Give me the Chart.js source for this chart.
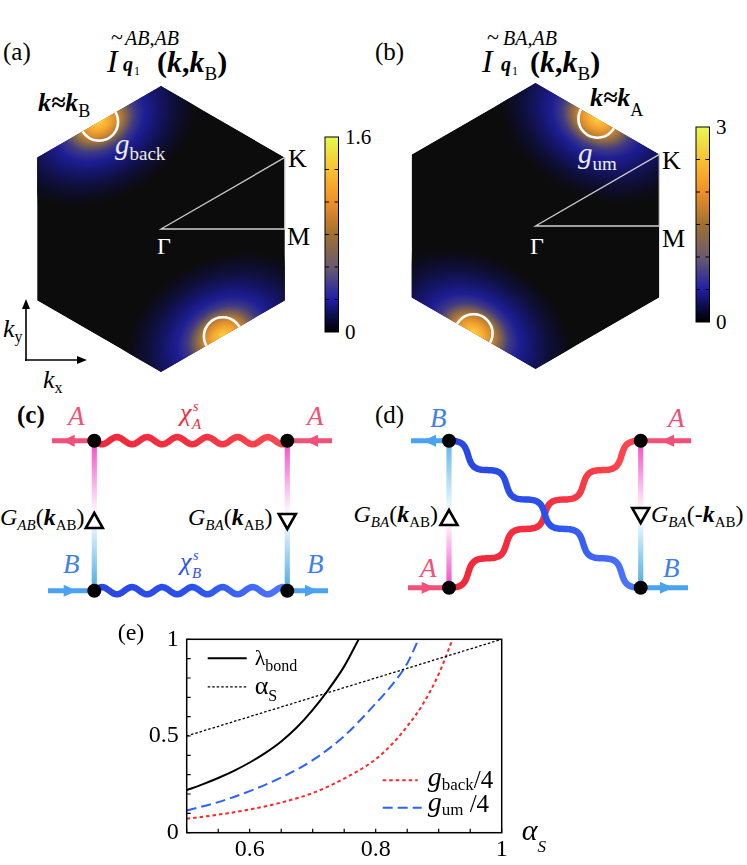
<!DOCTYPE html>
<html>
<head>
<meta charset="utf-8">
<script src="https://cdn.jsdelivr.net/npm/chart.js@4.4.0/dist/chart.umd.min.js"></script>
<style>
  html, body { margin: 0; padding: 0; background: #fff; }
  #page { position: relative; width: 747px; height: 865px; overflow: hidden; }
  #art { position: absolute; left: 0; top: 0; }
  #art text { font-family: "Liberation Serif", "Times New Roman", serif; }
  #chartE { position: absolute; left: 0; top: 600px; }
</style>
</head>
<body>
<div id="page">
  <svg id="art" width="747" height="865"></svg>
  <canvas id="chartE" width="747" height="265"></canvas>
</div>
<script>
// values
const alphaX = [0.5, 1.0];
const alphaY = [0.5, 1.0];
const lambdaX = [0.5, 0.525, 0.55, 0.575, 0.6, 0.625, 0.65, 0.675, 0.7, 0.725, 0.75, 0.773];
const lambdaY = [0.22, 0.25, 0.283, 0.32, 0.363, 0.413, 0.472, 0.545, 0.635, 0.74, 0.86, 1.0];
const umX = [0.5, 0.55, 0.6, 0.65, 0.7, 0.75, 0.8, 0.825, 0.85, 0.868];
const umY = [0.115, 0.158, 0.215, 0.285, 0.375, 0.5, 0.668, 0.76, 0.875, 1.0];
const backX = [0.5, 0.55, 0.6, 0.65, 0.7, 0.75, 0.8, 0.825, 0.85, 0.875, 0.9, 0.922];
const backY = [0.072, 0.093, 0.12, 0.156, 0.205, 0.28, 0.38, 0.455, 0.55, 0.665, 0.82, 1.0];
const xTickLabels = [0.6, 0.8, 1];
const yTickLabels = [0, 0.5, 1];
const colorbarA = ["1.6", "0"];
const colorbarB = ["3", "0"];

const SERIF = "'Liberation Serif', 'Times New Roman', serif";
const PINK = "#f0507a", LBLUE = "#4aa3ee", RED = "#f02a3a", DBLUE = "#2a50e8", TBLUE = "#3f7fe8";

// ---------- panels (a)-(d): illustration in svg ----------
function hex(cx, cy, r) {
  const w = r * Math.cos(Math.PI / 6);
  return {
    top: [cx, cy - r], ur: [cx + w, cy - r / 2], lr: [cx + w, cy + r / 2],
    bot: [cx, cy + r], ll: [cx - w, cy + r / 2], ul: [cx - w, cy - r / 2], c: [cx, cy]
  };
}
const mid = (p, q) => [(p[0] + q[0]) / 2, (p[1] + q[1]) / 2];
const ptsStr = h => [h.top, h.ur, h.lr, h.bot, h.ll, h.ul].map(p => p.join(",")).join(" ");

function wavePath(x1, y1, x2, y2, periods, amp) {
  const n = 200, dx = x2 - x1, dy = y2 - y1, len = Math.hypot(dx, dy);
  const nx = -dy / len, ny = dx / len;
  let d = "";
  for (let i = 0; i <= n; i++) {
    const t = i / n, o = amp * Math.sin(2 * Math.PI * periods * t);
    d += (i ? "L" : "M") + (x1 + dx * t + nx * o).toFixed(2) + "," + (y1 + dy * t + ny * o).toFixed(2);
  }
  return d;
}

function arrow(x, y, dir, color) {
  // dir = -1 points left, 1 points right; x = tip
  const b = x - dir * 13;
  return `<polygon points="${x},${y} ${b},${y - 6} ${b},${y + 6}" fill="${color}"/>`;
}

function tri(x, y, up) {
  const p = up ? `${x},${y - 8} ${x - 8.5},${y + 7} ${x + 8.5},${y + 7}`
               : `${x},${y + 8} ${x - 8.5},${y - 7} ${x + 8.5},${y - 7}`;
  return `<polygon points="${p}" fill="#fff" stroke="#000" stroke-width="2.6"/>`;
}

// spot: [x, y, angle of the hexagon edge it sits on]
function hexPanel(id, h, spots, cb, cbLabels) {
  let s = `<clipPath id="clip${id}"><polygon points="${ptsStr(h)}"/></clipPath>`;
  s += `<g clip-path="url(#clip${id})"><polygon points="${ptsStr(h)}" fill="#0c0c0c"/>`;
  spots.forEach(p => {
    s += `<ellipse cx="${p[0]}" cy="${p[1]}" rx="110" ry="82" transform="rotate(${p[2]} ${p[0]} ${p[1]})" fill="url(#glow)"/>`;
  });
  spots.forEach(p => { s += `<circle cx="${p[0]}" cy="${p[1]}" r="19" fill="none" stroke="#fff" stroke-width="2.6"/>`; });
  s += `</g>`;
  const M = [h.ur[0], h.c[1]];
  s += `<path d="M${h.c[0]},${h.c[1]}L${h.ur[0]},${h.ur[1]}L${M[0]},${M[1]}Z" fill="none" stroke="#cfcfcf" stroke-width="1.3"/>`;
  // colorbar
  s += `<rect x="${cb.x}" y="${cb.y}" width="13.5" height="${cb.h}" fill="url(#cmap)" stroke="#000" stroke-width="1"/>`;
  for (let i = 1; i < 6; i++) {
    const yy = cb.y + cb.h * i / 6;
    s += `<path d="M${cb.x},${yy}h4M${cb.x + 9.5},${yy}h4" stroke="#000" stroke-width="1"/>`;
  }
  s += `<text x="${cb.x + 20}" y="${cb.y + 7}" font-size="21">${cbLabels[0]}</text>`;
  s += `<text x="${cb.x + 20}" y="${cb.y + cb.h + 7}" font-size="21">${cbLabels[1]}</text>`;
  return s;
}

const hA = hex(161, 229, 143);
const hB = hex(535.5, 226, 143);

let svg = `<defs>
<radialGradient id="glow">
  <stop offset="0" stop-color="#ffd040"/><stop offset="0.1" stop-color="#f5a830"/>
  <stop offset="0.18" stop-color="#d08630"/><stop offset="0.26" stop-color="#80644c"/>
  <stop offset="0.34" stop-color="#403a84"/><stop offset="0.44" stop-color="#1e1e94"/>
  <stop offset="0.57" stop-color="#15156a"/><stop offset="0.72" stop-color="#0f0f3a"/>
  <stop offset="0.87" stop-color="#0c0c1a"/><stop offset="1" stop-color="#0c0c0c" stop-opacity="0"/>
</radialGradient>
<linearGradient id="cmap" x1="0" y1="1" x2="0" y2="0">
  <stop offset="0" stop-color="#000"/><stop offset="0.08" stop-color="#0c0c48"/>
  <stop offset="0.17" stop-color="#2020a8"/><stop offset="0.33" stop-color="#685a70"/>
  <stop offset="0.5" stop-color="#a07030"/><stop offset="0.67" stop-color="#f09028"/>
  <stop offset="0.83" stop-color="#f8c030"/><stop offset="1" stop-color="#e8f850"/>
</linearGradient>
<linearGradient id="vPinkBlue" x1="0" y1="0" x2="0" y2="1">
  <stop offset="0" stop-color="#f04ac8"/><stop offset="0.45" stop-color="#fff0fa"/>
  <stop offset="0.58" stop-color="#e2f4fd"/><stop offset="1" stop-color="#4aa8e0"/>
</linearGradient>
<linearGradient id="vBluePink" x1="0" y1="0" x2="0" y2="1">
  <stop offset="0" stop-color="#5ab4e6"/><stop offset="0.45" stop-color="#eef8fd"/>
  <stop offset="0.58" stop-color="#fdeef8"/><stop offset="1" stop-color="#f04ac8"/>
</linearGradient>
<linearGradient id="wRed" x1="0" y1="0" x2="1" y2="0">
  <stop offset="0" stop-color="#f0283c"/><stop offset="0.5" stop-color="#f23040"/><stop offset="1" stop-color="#ff4a50"/>
</linearGradient>
<linearGradient id="wBlue" x1="0" y1="0" x2="1" y2="0">
  <stop offset="0" stop-color="#2a46e0"/><stop offset="0.5" stop-color="#2a50ec"/><stop offset="1" stop-color="#5078ff"/>
</linearGradient>
</defs>`;

// (a)
svg += hexPanel("A", hA, [[...mid(hA.ul, hA.top), -30], [...mid(hA.lr, hA.bot), -30]], { x: 325, y: 137, h: 195 }, colorbarA);
svg += `<text x="3" y="60" font-size="25">(a)</text>
<text x="111" y="44" font-size="22">~</text>
<text x="107" y="72" font-size="32" font-style="italic">I</text>
<text x="125" y="45" font-size="20" font-style="italic">AB,AB</text>
<text x="123" y="71" font-size="20" font-style="italic" font-weight="bold">q</text>
<text x="134" y="75" font-size="12">1</text>
<text x="157" y="72" font-size="30" font-weight="bold">(<tspan font-style="italic">k</tspan>,<tspan font-style="italic">k</tspan><tspan font-size="19" font-weight="normal" dy="8">B</tspan><tspan dy="-8">)</tspan></text>
<text x="38" y="111" font-size="26" font-weight="bold" font-style="italic">k≈k<tspan font-size="18" font-weight="normal" font-style="normal" dy="6">B</tspan></text>
<text x="115" y="154" font-size="29" font-style="italic" fill="#ececec">g<tspan font-size="19" font-style="normal" dy="6">back</tspan></text>
<text x="288" y="167" font-size="26">K</text>
<text x="287" y="245" font-size="26">M</text>
<text x="157" y="254" font-size="24" fill="#fff">Γ</text>
<path d="M26,361V306M25,360H80" stroke="#000" stroke-width="1.6" fill="none"/>
<polygon points="26,299 22,309 30,309" fill="#000"/>
<polygon points="87,360 77,356 77,364" fill="#000"/>
<text x="3" y="337" font-size="26" font-style="italic">k<tspan font-size="16" font-style="normal" dy="5">y</tspan></text>
<text x="43" y="388" font-size="26" font-style="italic">k<tspan font-size="16" font-style="normal" dy="5">x</tspan></text>`;

// (b)
svg += hexPanel("B", hB, [[...mid(hB.top, hB.ur), 30], [...mid(hB.ll, hB.bot), 30]], { x: 696, y: 127, h: 195 }, colorbarB);
svg += `<text x="375" y="60" font-size="25">(b)</text>
<text x="487" y="44" font-size="22">~</text>
<text x="482" y="72" font-size="32" font-style="italic">I</text>
<text x="503" y="45" font-size="20" font-style="italic">BA,AB</text>
<text x="501" y="71" font-size="20" font-style="italic" font-weight="bold">q</text>
<text x="512" y="75" font-size="12">1</text>
<text x="530" y="72" font-size="30" font-weight="bold">(<tspan font-style="italic">k</tspan>,<tspan font-style="italic">k</tspan><tspan font-size="19" font-weight="normal" dy="8">B</tspan><tspan dy="-8">)</tspan></text>
<text x="590" y="106" font-size="26" font-weight="bold" font-style="italic">k≈k<tspan font-size="18" font-weight="normal" font-style="normal" dy="10">A</tspan></text>
<text x="578" y="163" font-size="29" font-style="italic" fill="#ececec">g<tspan font-size="19" font-style="normal" dy="7">um</tspan></text>
<text x="662" y="169" font-size="26">K</text>
<text x="662" y="247" font-size="26">M</text>
<text x="530" y="254" font-size="24" fill="#fff">Γ</text>`;

// (c)
{
  const xl = 94.3, xr = 287.3, yt = 440.7, yb = 590.7;
  svg += `<rect x="${xl - 2.6}" y="${yt}" width="5.2" height="${yb - yt}" fill="url(#vPinkBlue)"/>
<rect x="${xr - 2.6}" y="${yt}" width="5.2" height="${yb - yt}" fill="url(#vPinkBlue)"/>
<path d="M52,${yt}H${xl}M${xr},${yt}H332" stroke="${PINK}" stroke-width="5"/>
<path d="M48,${yb}H${xl}M${xr},${yb}H328" stroke="${LBLUE}" stroke-width="5"/>
${arrow(61.7, yt, -1, PINK)}${arrow(305, yt, -1, PINK)}
${arrow(76.7, yb, 1, LBLUE)}${arrow(318, yb, 1, LBLUE)}
<path d="${wavePath(xl, yt, xr, yt, 6.4, 3.6)}" stroke="url(#wRed)" stroke-width="6.5" fill="none" stroke-linecap="round"/>
<path d="${wavePath(xl, yb, xr, yb, 6.4, -3.6)}" stroke="url(#wBlue)" stroke-width="6.5" fill="none" stroke-linecap="round"/>
${tri(xl, 521, true)}${tri(xr, 521, false)}
<circle cx="${xl}" cy="${yt}" r="7" fill="#000"/><circle cx="${xr}" cy="${yt}" r="7" fill="#000"/>
<circle cx="${xl}" cy="${yb}" r="7" fill="#000"/><circle cx="${xr}" cy="${yb}" r="7" fill="#000"/>`;
  svg += `<text x="17" y="423" font-size="25" font-weight="bold">(c)</text>
<text x="68" y="425" font-size="27" font-style="italic" fill="${PINK}">A</text>
<text x="307" y="425" font-size="27" font-style="italic" fill="${PINK}">A</text>
<text x="180" y="421" font-size="26" font-style="italic" fill="${RED}">χ</text>
<text x="193" y="411" font-size="14" font-style="italic" fill="${RED}">s</text>
<text x="192" y="429" font-size="15" font-style="italic" fill="${RED}">A</text>
<text x="63" y="573" font-size="27" font-style="italic" fill="${TBLUE}">B</text>
<text x="307" y="573" font-size="27" font-style="italic" fill="${TBLUE}">B</text>
<text x="180" y="570" font-size="26" font-style="italic" fill="${DBLUE}">χ</text>
<text x="193" y="560" font-size="14" font-style="italic" fill="${DBLUE}">s</text>
<text x="192" y="578" font-size="15" font-style="italic" fill="${DBLUE}">B</text>
<text x="0" y="525" font-size="24"><tspan font-style="italic">G</tspan><tspan font-size="15" font-style="italic" dy="5">AB</tspan><tspan dy="-5">(</tspan><tspan font-weight="bold" font-style="italic">k</tspan><tspan font-size="15" dy="5">AB</tspan><tspan dy="-5">)</tspan></text>
<text x="188" y="525" font-size="24"><tspan font-style="italic">G</tspan><tspan font-size="15" font-style="italic" dy="5">BA</tspan><tspan dy="-5">(</tspan><tspan font-weight="bold" font-style="italic">k</tspan><tspan font-size="15" dy="5">AB</tspan><tspan dy="-5">)</tspan></text>`;
}

// (d)
{
  const xl = 449, xr = 640.7, yt = 440.7, yb = 587.7;
  svg += `<rect x="${xl - 2.6}" y="${yt}" width="5.2" height="${yb - yt}" fill="url(#vBluePink)"/>
<rect x="${xr - 2.6}" y="${yt}" width="5.2" height="${yb - yt}" fill="url(#vPinkBlue)"/>
<path d="M411,${yt}H${xl}M${xr},${yb}H688" stroke="${LBLUE}" stroke-width="5"/>
<path d="M408,${yb}H${xl}M${xr},${yt}H691" stroke="${PINK}" stroke-width="5"/>
${arrow(423, yt, -1, LBLUE)}${arrow(661, yt, -1, PINK)}
${arrow(434.7, yb, 1, PINK)}${arrow(673, yb, 1, LBLUE)}
<path d="${wavePath(xl, yb, xr, yt, 5, 5.5)}" stroke="url(#wRed)" stroke-width="6.5" fill="none" stroke-linecap="round"/>
<path d="${wavePath(xl, yt, xr, yb, 5, -5.5)}" stroke="url(#wBlue)" stroke-width="6.5" fill="none" stroke-linecap="round"/>
${tri(xl, 518, true)}${tri(xr, 515, false)}
<circle cx="${xl}" cy="${yt}" r="7" fill="#000"/><circle cx="${xr}" cy="${yt}" r="7" fill="#000"/>
<circle cx="${xl}" cy="${yb}" r="7" fill="#000"/><circle cx="${xr}" cy="${yb}" r="7" fill="#000"/>`;
  svg += `<text x="375" y="423" font-size="25">(d)</text>
<text x="430" y="427" font-size="27" font-style="italic" fill="${TBLUE}">B</text>
<text x="668" y="427" font-size="27" font-style="italic" fill="${PINK}">A</text>
<text x="420" y="577" font-size="27" font-style="italic" fill="${PINK}">A</text>
<text x="663" y="577" font-size="27" font-style="italic" fill="${TBLUE}">B</text>
<text x="438" y="522" font-size="24" text-anchor="end"><tspan font-style="italic">G</tspan><tspan font-size="15" font-style="italic" dy="5">BA</tspan><tspan dy="-5">(</tspan><tspan font-weight="bold" font-style="italic">k</tspan><tspan font-size="15" dy="5">AB</tspan><tspan dy="-5">)</tspan></text>
<text x="651" y="522" font-size="24"><tspan font-style="italic">G</tspan><tspan font-size="15" font-style="italic" dy="5">BA</tspan><tspan dy="-5">(-</tspan><tspan font-weight="bold" font-style="italic">k</tspan><tspan font-size="15" dy="5">AB</tspan><tspan dy="-5">)</tspan></text>`;
}

document.getElementById("art").innerHTML = svg;

// ---------- panel (e): Chart.js ----------
const pts = (xs, ys) => xs.map((x, i) => ({ x, y: ys[i] }));
const near = (v, list) => list.some(t => Math.abs(v - t) < 1e-6);

const STYLE = {
  lambda: { color: "#000", width: 2, dash: [] },
  alpha: { color: "#000", width: 1.3, dash: [2.5, 2] },
  back: { color: "#ff2626", width: 2, dash: [3.5, 3] },
  um: { color: "#2a62ff", width: 2, dash: [10, 5] }
};

function legendLine(ctx, x1, x2, y, st) {
  ctx.save();
  ctx.strokeStyle = st.color;
  ctx.lineWidth = st.width;
  ctx.setLineDash(st.dash);
  ctx.beginPath();
  ctx.moveTo(x1, y);
  ctx.lineTo(x2, y);
  ctx.stroke();
  ctx.restore();
}

function runs(ctx, x, parts) {
  // parts: [text, font, baseline y]
  parts.forEach(([txt, font, y]) => {
    ctx.font = font;
    ctx.fillText(txt, x, y);
    x += ctx.measureText(txt).width;
  });
}

const framePlugin = {
  id: "frame",
  afterDraw(chart) {
    const { ctx, chartArea: a, scales: { x, y } } = chart;
    ctx.save();
    ctx.strokeStyle = "#000";
    ctx.lineWidth = 1.5;
    ctx.strokeRect(a.left, a.top, a.right - a.left, a.bottom - a.top);
    ctx.lineWidth = 1.2;
    ctx.beginPath();
    x.ticks.forEach(t => {
      const px = x.getPixelForValue(t.value);
      ctx.moveTo(px, a.bottom);
      ctx.lineTo(px, a.bottom - 4);
    });
    y.ticks.forEach(t => {
      const py = y.getPixelForValue(t.value);
      ctx.moveTo(a.left, py);
      ctx.lineTo(a.left + 4, py);
    });
    ctx.stroke();

    ctx.fillStyle = "#000";
    ctx.textBaseline = "alphabetic";
    ctx.textAlign = "left";
    // legend, upper left
    legendLine(ctx, a.left + 21, a.left + 60, a.top + 19, STYLE.lambda);
    runs(ctx, a.left + 68, [["λ", `22px ${SERIF}`, a.top + 26], ["bond", `16px ${SERIF}`, a.top + 32]]);
    legendLine(ctx, a.left + 21, a.left + 60, a.top + 47.5, STYLE.alpha);
    runs(ctx, a.left + 68, [["α", `26px ${SERIF}`, a.top + 55], ["S", `16px ${SERIF}`, a.top + 62]]);
    // legend, lower right
    legendLine(ctx, a.left + 196, a.left + 231, a.top + 141, STYLE.back);
    runs(ctx, a.left + 241, [["g", `italic 28px ${SERIF}`, a.top + 147], ["back", `17px ${SERIF}`, a.top + 151], ["/4", `25px ${SERIF}`, a.top + 149]]);
    legendLine(ctx, a.left + 196, a.left + 235, a.top + 168.5, STYLE.um);
    runs(ctx, a.left + 241, [["g", `italic 28px ${SERIF}`, a.top + 172], ["um", `17px ${SERIF}`, a.top + 176], [" /4", `25px ${SERIF}`, a.top + 172.5]]);
    // axis title and panel label
    runs(ctx, a.right + 20, [["α", `italic 30px ${SERIF}`, a.bottom + 7], ["S", `italic 17px ${SERIF}`, a.bottom + 19]]);
    ctx.font = `24px ${SERIF}`;
    ctx.fillText("(e)", a.left - 69, a.top + 1);
    ctx.restore();
  }
};

const ds = (label, xs, ys, st, curved) => ({
  label,
  data: pts(xs, ys),
  borderColor: st.color,
  borderWidth: st.width,
  borderDash: st.dash,
  pointRadius: 0,
  fill: false,
  tension: 0,
  cubicInterpolationMode: curved ? "monotone" : "default"
});

const tickFont = { family: SERIF, size: 24 };

new Chart(document.getElementById("chartE"), {
  type: "line",
  data: {
    datasets: [
      ds("λbond", lambdaX, lambdaY, STYLE.lambda, true),
      ds("αS", alphaX, alphaY, STYLE.alpha, false),
      ds("gback/4", backX, backY, STYLE.back, true),
      ds("gum/4", umX, umY, STYLE.um, true)
    ]
  },
  options: {
    responsive: false,
    animation: false,
    layout: { padding: { left: 0, top: 39.3, right: 245.3, bottom: 0 } },
    plugins: { legend: { display: false }, tooltip: { enabled: false } },
    scales: {
      x: {
        type: "linear",
        min: 0.5,
        max: 1,
        afterFit: s => { s.height = 32.3; },
        grid: { display: false, drawTicks: false },
        border: { display: false },
        ticks: {
          stepSize: 0.05,
          autoSkip: false,
          maxRotation: 0,
          padding: 3,
          color: "#000",
          font: tickFont,
          callback: v => (near(v, xTickLabels) ? String(+v.toFixed(1)) : "")
        }
      },
      y: {
        type: "linear",
        min: 0,
        max: 1,
        afterFit: s => { s.width = 186.7; },
        grid: { display: false, drawTicks: false },
        border: { display: false },
        ticks: {
          stepSize: 0.1,
          autoSkip: false,
          padding: 8,
          color: "#000",
          font: tickFont,
          callback: v => (near(v, yTickLabels) ? String(+v.toFixed(1)) : "")
        }
      }
    }
  },
  plugins: [framePlugin]
});
</script>
</body>
</html>
